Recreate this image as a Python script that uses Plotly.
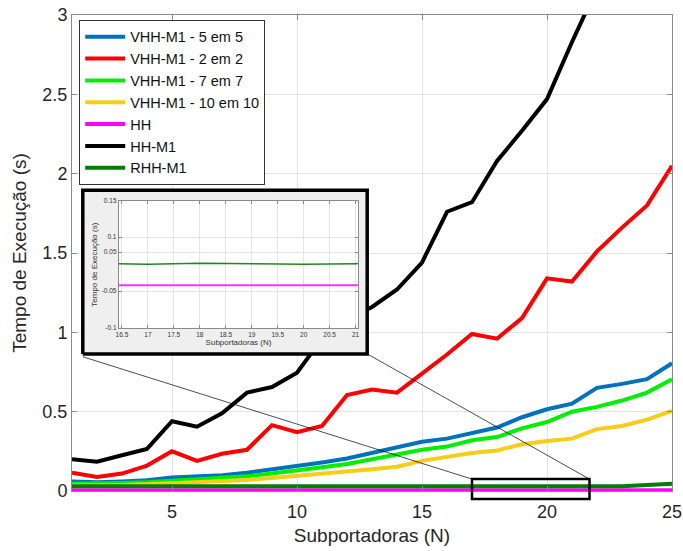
import plotly.graph_objects as go

# ---------------- data ----------------
N = list(range(1, 26))
VHH_5 = [0.060, 0.055, 0.060, 0.068, 0.085, 0.090, 0.100, 0.115, 0.135, 0.158, 0.180, 0.205, 0.240,
         0.275, 0.310, 0.330, 0.367, 0.400, 0.465, 0.515, 0.550, 0.650, 0.675, 0.705, 0.805]
VHH_2 = [0.115, 0.088, 0.110, 0.160, 0.250, 0.190, 0.235, 0.260, 0.415, 0.370, 0.410, 0.605, 0.640,
         0.620, 0.740, 0.860, 0.990, 0.960, 1.090, 1.340, 1.320, 1.510, 1.660, 1.800, 2.050]
VHH_7 = [0.045, 0.045, 0.050, 0.055, 0.065, 0.073, 0.083, 0.093, 0.110, 0.127, 0.150, 0.170, 0.200,
         0.225, 0.260, 0.280, 0.320, 0.340, 0.395, 0.435, 0.500, 0.530, 0.570, 0.620, 0.705]
VHH_10 = [0.035, 0.035, 0.038, 0.042, 0.048, 0.053, 0.062, 0.070, 0.082, 0.095, 0.107, 0.120, 0.137,
          0.153, 0.190, 0.215, 0.240, 0.255, 0.295, 0.315, 0.330, 0.390, 0.410, 0.450, 0.505]
HH = [0.005] * 25
HH_M1 = [0.200, 0.185, 0.225, 0.265, 0.440, 0.405, 0.490, 0.620, 0.655, 0.745, 0.960, 1.080, 1.160,
         1.270, 1.440, 1.760, 1.820, 2.080, 2.270, 2.470, 2.830, 3.170, None, None, None]
RHH_M1 = [0.030, 0.030, 0.030, 0.032, 0.033, 0.033, 0.033, 0.033, 0.033, 0.033, 0.033, 0.032, 0.030,
          0.028, 0.027, 0.027, 0.027, 0.027, 0.027, 0.027, 0.027, 0.028, 0.030, 0.038, 0.045]

SERIES_NAMES = ["VHH-M1 - 5 em 5", "VHH-M1 - 2 em 2", "VHH-M1 - 7 em 7", "VHH-M1 - 10 em 10",
                "HH", "HH-M1", "RHH-M1"]
SERIES_COLORS = ["#0072BD", "#FF0000", "#00EE00", "#F8CC1B", "#FF00FF", "#000000", "#007F00"]

# inset (zoom) data
INSET_N = [16, 17, 18, 19, 20, 21, 22]
INSET_RHH = [0.027, 0.026, 0.028, 0.027, 0.026, 0.027, 0.029]
INSET_HH = [-0.0155] * 7
INSET_Y_TICKVALS = [-0.1, -0.027, 0.0496, 0.079, 0.15]
INSET_Y_TICKTEXT = ["-0.1", "-0.05", "0.05", "0.1", "0.15"]

# zoomed region on main axes
ZOOM_X = [17, 21.7]
ZOOM_Y = [-0.05, 0.075]

# ---------------- layout geometry ----------------
X_MIN, X_MAX = 1, 25
Y_MIN, Y_MAX = 0, 3
INSET_BOX = dict(x0=0.018, x1=0.492, y0=0.288, y1=0.632)   # paper coords
INSET_PLOT = dict(x0=0.078, x1=0.477, y0=0.342, y1=0.609)

def px_(v):
    return (v - X_MIN) / (X_MAX - X_MIN)

def py_(v):
    return (v - Y_MIN) / (Y_MAX - Y_MIN)

FONT = "Arial, Liberation Sans, sans-serif"
AX_COL = "#8a8a8a"
GRID = "#e4e4e4"

fig = go.Figure()

all_series = [VHH_5, VHH_2, VHH_7, VHH_10, HH, HH_M1, RHH_M1]
for name, ys, col in zip(SERIES_NAMES, all_series, SERIES_COLORS):
    fig.add_trace(go.Scatter(x=N, y=ys, mode="lines", name=name,
                             line=dict(color=col, width=4), xaxis="x", yaxis="y"))

# inset background box (subplot x2/y2 spanning paper)
b = INSET_BOX
fig.add_trace(go.Scatter(x=[b["x0"], b["x1"], b["x1"], b["x0"], b["x0"]],
                         y=[b["y0"], b["y0"], b["y1"], b["y1"], b["y0"]],
                         mode="lines", fill="toself", fillcolor="#efefef",
                         line=dict(color="black", width=3.5), showlegend=False,
                         hoverinfo="skip", xaxis="x2", yaxis="y2"))
p = INSET_PLOT
fig.add_trace(go.Scatter(x=[p["x0"], p["x1"], p["x1"], p["x0"], p["x0"]],
                         y=[p["y0"], p["y0"], p["y1"], p["y1"], p["y0"]],
                         mode="lines", fill="toself", fillcolor="white",
                         line=dict(color="white", width=0), showlegend=False,
                         hoverinfo="skip", xaxis="x2", yaxis="y2"))

# inset traces
fig.add_trace(go.Scatter(x=INSET_N, y=INSET_RHH, mode="lines", showlegend=False,
                         line=dict(color="#1E8A1E", width=1.5), xaxis="x3", yaxis="y3"))
fig.add_trace(go.Scatter(x=INSET_N, y=INSET_HH, mode="lines", showlegend=False,
                         line=dict(color="#FF33FF", width=2), xaxis="x3", yaxis="y3"))

# zoom rectangle and connector lines
zx0, zx1 = px_(ZOOM_X[0]), px_(ZOOM_X[1])
zy0, zy1 = py_(ZOOM_Y[0]), py_(ZOOM_Y[1])
shapes = [
    dict(type="rect", xref="paper", yref="paper", x0=zx0, x1=zx1, y0=zy0, y1=zy1,
         line=dict(color="black", width=2.5), layer="above"),
    dict(type="line", xref="paper", yref="paper", x0=b["x0"], y0=b["y0"] - 0.006, x1=zx0, y1=zy1,
         line=dict(color="black", width=0.7), layer="above"),
    dict(type="line", xref="paper", yref="paper", x0=b["x1"], y0=b["y0"], x1=zx1, y1=zy1,
         line=dict(color="black", width=0.7), layer="above"),
]

fig.update_layout(
    width=683, height=551,
    margin=dict(l=72, r=11, t=15, b=60, autoexpand=False),
    paper_bgcolor="white", plot_bgcolor="rgba(0,0,0,0)",
    font=dict(family=FONT, color="#262626"),
    showlegend=True,
    legend=dict(x=0.012, y=0.99, xanchor="left", yanchor="top",
                bgcolor="white", bordercolor="#333333", borderwidth=1,
                font=dict(size=14.5, family=FONT, color="#111111"),
                tracegroupgap=0, itemwidth=40),
    shapes=shapes,
    xaxis=dict(range=[X_MIN, X_MAX], tick0=0, dtick=5, ticks="inside", ticklen=5,
               tickcolor=AX_COL, showline=True, linecolor=AX_COL, mirror="ticks",
               showgrid=True, gridcolor=GRID, zeroline=False, automargin=False,
               ticklabelstandoff=4,
               tickfont=dict(size=18, color="#262626"),
               title=dict(text="Subportadoras (N)", font=dict(size=19, color="#262626"), standoff=8),
               domain=[0, 1], anchor="y"),
    yaxis=dict(range=[Y_MIN, Y_MAX], dtick=0.5, ticks="inside", ticklen=5,
               tickcolor=AX_COL, showline=True, linecolor=AX_COL, mirror="ticks",
               showgrid=True, gridcolor=GRID, zeroline=False, automargin=False,
               tickfont=dict(size=18, color="#262626"),
               title=dict(text="Tempo de Execução (s)", font=dict(size=19, color="#262626"), standoff=10),
               domain=[0, 1], anchor="x"),
    xaxis2=dict(range=[0, 1], domain=[0, 1], visible=False, anchor="y2", fixedrange=True),
    yaxis2=dict(range=[0, 1], domain=[0, 1], visible=False, anchor="x2", fixedrange=True),
    xaxis3=dict(range=[16.44, 21.05], tick0=16.5, dtick=0.5, domain=[p["x0"], p["x1"]], anchor="y3",
                ticks="inside", ticklen=3, tickcolor=AX_COL, showline=True, linecolor=AX_COL,
                mirror="ticks", showgrid=True, gridcolor=GRID, zeroline=False, automargin=False,
                tickfont=dict(size=6.5, color="#333333"),
                title=dict(text="Subportadoras (N)", font=dict(size=8, color="#333333"), standoff=2)),
    yaxis3=dict(range=[-0.1, 0.15], tickvals=INSET_Y_TICKVALS, ticktext=INSET_Y_TICKTEXT,
                domain=[p["y0"], p["y1"]], anchor="x3",
                ticks="inside", ticklen=3, tickcolor=AX_COL, showline=True, linecolor=AX_COL,
                mirror="ticks", showgrid=True, gridcolor=GRID, zeroline=False, automargin=False,
                tickfont=dict(size=6.5, color="#333333"),
                title=dict(text="Tempo de Execução (s)", font=dict(size=8, color="#333333"), standoff=2)),
)

fig.write_html("out.html")
